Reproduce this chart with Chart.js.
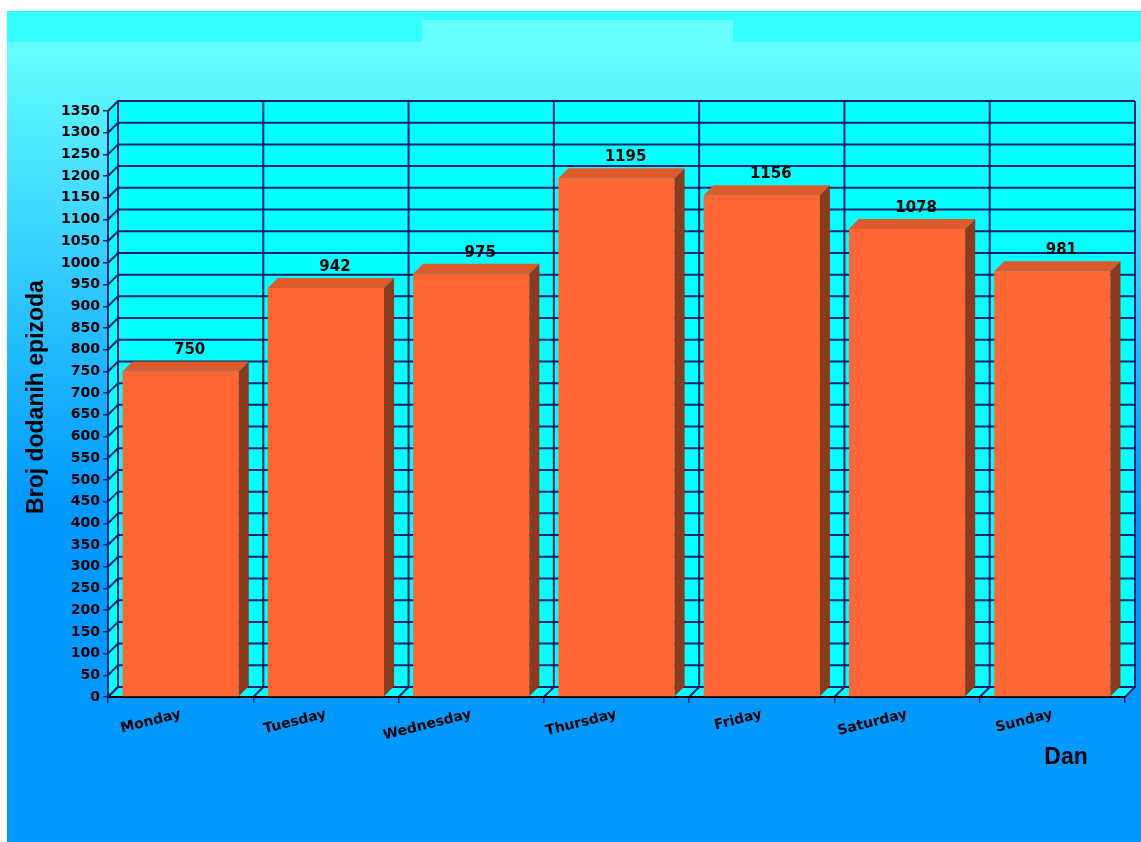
<!DOCTYPE html>
<html>
<head>
<meta charset="utf-8">
<script src="https://cdn.jsdelivr.net/npm/chart.js@4.4.1/dist/chart.umd.min.js"></script>
<style>
html,body{margin:0;padding:0;background:#fff;}
#wrap{width:1141px;height:842px;}
</style>
</head>
<body>
<div id="wrap"><canvas id="c"></canvas></div>
<script>
const days=["Monday","Tuesday","Wednesday","Thursday","Friday","Saturday","Sunday"];
const episodes=[750,942,975,1195,1156,1078,981];
const yTitle="Broj dodanih epizoda";
const xTitle="Dan";

const DEPTH=10;
const gridColor="#12206a";
const wallColor="#00FFFF";
const comic="'Comic Sans MS','DejaVu Sans',sans-serif";

// page backdrop + the 3d walls, drawn before scales
const backdrop={
  id:'backdrop',
  beforeDraw(chart){
    const ctx=chart.ctx;
    ctx.save();
    ctx.fillStyle='#fff';
    ctx.fillRect(0,0,chart.width,chart.height);
    ctx.fillStyle='#33FFFF';
    ctx.fillRect(7,11,chart.width-7,31);
    ctx.fillStyle='#66FFFF';
    ctx.fillRect(422,20,311,22);
    const g=ctx.createLinearGradient(0,42,0,500);
    g.addColorStop(0,'#66FFFF');
    g.addColorStop(1,'#0099FF');
    ctx.fillStyle=g;
    ctx.fillRect(7,42,chart.width-7,chart.height-42);

    const a=chart.chartArea, xs=chart.scales.x, ys=chart.scales.y, d=DEPTH;
    ctx.fillStyle=wallColor;
    ctx.fillRect(a.left+d,a.top-d,a.right-a.left,a.bottom-a.top);
    ctx.beginPath();
    ctx.moveTo(a.left,a.bottom);ctx.lineTo(a.left,a.top);
    ctx.lineTo(a.left+d,a.top-d);ctx.lineTo(a.left+d,a.bottom-d);
    ctx.closePath();ctx.fill();
    ctx.beginPath();
    ctx.moveTo(a.left,a.bottom);ctx.lineTo(a.left+d,a.bottom-d);
    ctx.lineTo(a.right+d,a.bottom-d);ctx.lineTo(a.right,a.bottom);
    ctx.closePath();ctx.fill();

    ctx.strokeStyle=gridColor;
    ctx.lineWidth=2;
    ys.ticks.forEach(t=>{
      const py=ys.getPixelForValue(t.value);
      ctx.beginPath();
      ctx.moveTo(a.left,py);ctx.lineTo(a.left+d,py-d);ctx.lineTo(a.right+d,py-d);
      ctx.stroke();
    });
    for(let i=0;i<=days.length;i++){
      const px=xs.getPixelForValue(i-0.5);
      ctx.beginPath();
      ctx.moveTo(px,a.bottom);ctx.lineTo(px+d,a.bottom-d);ctx.lineTo(px+d,a.top-d);
      ctx.stroke();
    }
    ctx.restore();
  }
};

// side + top faces of the bars, and the value labels
const bars3d={
  id:'bars3d',
  afterDatasetsDraw(chart){
    const ctx=chart.ctx, d=DEPTH;
    const meta=chart.getDatasetMeta(0);
    ctx.save();
    meta.data.forEach((bar,i)=>{
      const {x,y,base,width}=bar.getProps(['x','y','base','width'],true);
      const l=x-width/2, r=x+width/2;
      ctx.fillStyle='#DD5A2C';
      ctx.beginPath();
      ctx.moveTo(l,y);ctx.lineTo(l+d,y-d);ctx.lineTo(r+d,y-d);ctx.lineTo(r,y);
      ctx.closePath();ctx.fill();
      ctx.fillStyle='#8B3A1B';
      ctx.beginPath();
      ctx.moveTo(r,y);ctx.lineTo(r+d,y-d);ctx.lineTo(r+d,base-d);ctx.lineTo(r,base);
      ctx.closePath();ctx.fill();

      ctx.fillStyle='#000';
      ctx.font='bold 15px '+comic;
      ctx.textAlign='center';
      ctx.textBaseline='middle';
      ctx.fillText(String(episodes[i]),x+9,y-21);
    });
    ctx.restore();
  }
};

const titles={
  id:'titles',
  afterDraw(chart){
    const ctx=chart.ctx;
    ctx.save();
    ctx.fillStyle='#000';
    ctx.font="bold 23px 'Liberation Sans',Arial,sans-serif";
    ctx.textAlign='center';
    ctx.textBaseline='middle';
    ctx.fillText(xTitle,1066,758);
    ctx.translate(37,397);
    ctx.rotate(-Math.PI/2);
    ctx.fillText(yTitle,0,0);
    ctx.restore();
  }
};

new Chart(document.getElementById('c'),{
  type:'bar',
  data:{
    labels:days,
    datasets:[{
      data:episodes,
      backgroundColor:'#FF6633',
      borderWidth:0,
      barPercentage:0.8,
      categoryPercentage:1
    }]
  },
  options:{
    responsive:true,
    maintainAspectRatio:false,
    animation:false,
    layout:{padding:{top:111,right:16,left:0,bottom:0}},
    plugins:{legend:{display:false},tooltip:{enabled:false}},
    scales:{
      x:{
        afterFit:s=>{s.height=145;},
        grid:{drawOnChartArea:false,color:gridColor,tickLength:6,lineWidth:1.5},
        border:{display:true,color:'#000',width:2},
        ticks:{
          color:'#000',
          font:{family:comic,size:14,weight:'bold'},
          minRotation:14,maxRotation:14,autoSkip:false,padding:3
        }
      },
      y:{
        min:0,max:1350,
        afterFit:s=>{s.width=108;},
        grid:{drawOnChartArea:false,color:gridColor,tickLength:5,lineWidth:1.5},
        border:{display:true,color:gridColor,width:2},
        ticks:{
          stepSize:50,color:'#000',padding:3,
          font:{family:comic,size:14,weight:'bold'},
          callback:v=>String(v)
        }
      }
    }
  },
  plugins:[backdrop,bars3d,titles]
});
</script>
</body>
</html>
